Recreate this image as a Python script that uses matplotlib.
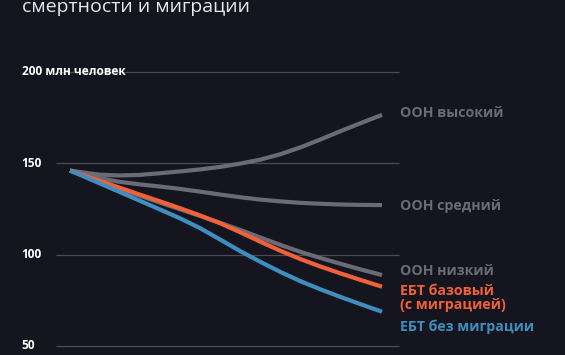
import matplotlib
matplotlib.use("Agg")
import matplotlib.pyplot as plt

# ---- data ----
years = [2023, 2030, 2035, 2040, 2045, 2050, 2055, 2060, 2065, 2070, 2075, 2080, 2085, 2090, 2095, 2100]
un_high = [146, 143.8, 143.3, 143.6, 144.5, 145.5, 146.6, 148.0, 149.8, 152.0, 155.0, 158.8, 163.2, 167.8, 172.2, 176.5]
un_mid = [146, 142.0, 139.9, 138.5, 137.3, 136.0, 134.5, 132.9, 131.4, 130.1, 129.1, 128.3, 127.8, 127.4, 127.2, 127.1]
un_low = [146, 140.2, 136.3, 132.4, 128.6, 124.9, 121.2, 117.4, 113.5, 109.3, 105.2, 101.4, 98.0, 94.8, 91.7, 88.8]
ebt_base = [146, 140.6, 136.8, 133.0, 129.3, 125.5, 121.5, 117.2, 112.2, 107.0, 102.0, 97.4, 93.3, 89.5, 85.9, 82.4]
ebt_nomig = [146, 139.3, 134.5, 129.7, 124.9, 120.0, 114.6, 108.3, 101.9, 96.0, 90.4, 85.3, 80.8, 76.6, 72.6, 68.7]

series_names = ["ООН высокий", "ООН средний", "ООН низкий", "ЕБТ базовый\n(с миграцией)", "ЕБТ без миграции"]
label_y = [177.5, 126.8, 91.2, 76.1, 60.4]
yticks = [200, 150, 100, 50]
ytick_labels = ["200 млн человек", "150", "100", "50"]
title = "смертности и миграции"

BG = "#14151f"
GRAY = "#6a6b74"
ORANGE = "#f2603a"
BLUE = "#3e8fbf"
GRID = "#4a4b55"

plt.rcParams['font.family'] = ['Open Sans', 'DejaVu Sans']

fig = plt.figure(figsize=(5.65, 3.55), dpi=100, facecolor=BG)
ax = fig.add_axes([0, 0, 1, 1])
ax.set_facecolor(BG)
ax.set_xlim(2005.72, 2145.16)
ax.set_ylim(45.0, 239.4)
ax.axis("off")

# gridlines
ax.hlines(yticks, 2019.5, 2104.2, colors=GRID, linewidth=0.9, zorder=1)
for v, t in zip(yticks, ytick_labels):
    ax.text(2011.1, v, t, color="white", fontsize=8.6, fontweight="bold",
            ha="left", va="center", zorder=3)

series = [un_high, un_mid, un_low, ebt_base, ebt_nomig]
colors = [GRAY, GRAY, GRAY, ORANGE, BLUE]
for s, c in zip(series, colors):
    ax.plot(years, s, color=c, linewidth=3.0, solid_capstyle="butt",
            solid_joinstyle="round", zorder=2)

for name, c, ly in zip(series_names, colors, label_y):
    ax.text(2104.4, ly, name, color=c, fontsize=10.2, fontweight="bold",
            ha="left", va="center", linespacing=1.0, zorder=3)

fig.text(22 / 565, 1 - 12 / 355, title, color="#e8e8ea", fontsize=14,
         ha="left", va="baseline")

fig.savefig("out.png", dpi=100, facecolor=BG)
